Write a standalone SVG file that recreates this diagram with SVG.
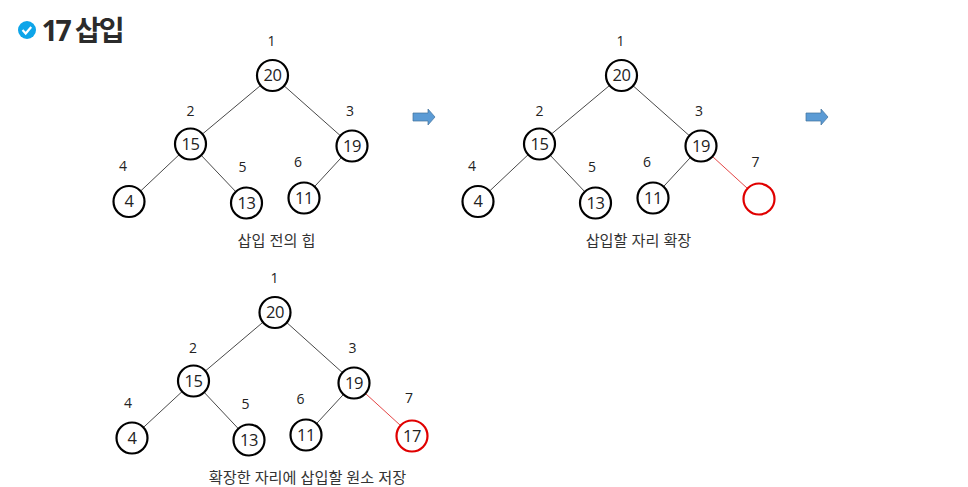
<svg xmlns="http://www.w3.org/2000/svg" width="968" height="487" viewBox="0 0 968 487">
<style>
text{font-family:"Open Sans","Noto Sans CJK KR","Noto Sans",sans-serif;fill:#222;text-anchor:middle}
.n{fill:#fff;stroke:#000;stroke-width:2.2}
.r{fill:#fff;stroke:#e00000;stroke-width:2.2}
.l{font-size:14px}
.v{font-size:16.500px;letter-spacing:-.5px}
.c{font-size:15.200px;fill:#333}
.e{stroke:#333;stroke-width:.9}
.er{stroke:#e03030;stroke-width:.9}
.a{fill:#5b9bd5;stroke:#41719c;stroke-width:.7}
</style>
<defs>
<g id="arrow"><path class="a" d="M0-4H15V-8L22 0 15 8V4H0Z"/></g>
</defs>
<g id="title">
<circle cx="27" cy="30" r="9" fill="#0ea5e9"/>
<path d="M22.500 30l3.200 3.500 5.500-6.500" fill="none" stroke="#fff" stroke-width="2.200"/>
<text x="82" y="41" style="font-size:28.500px;font-weight:700;letter-spacing:-2.300px;fill:#2b2b2b">17 삽입</text>
</g>
<g id="connectors">
<path class="e" d="M272.500 75.500L190.500 144M272.500 75.500L352 146M190.500 144L129.500 201.500M190.500 144L246.500 203M352 146L304 198"/>
<path class="e" d="M621.500 75.500L539.500 144M621.500 75.500L701 146M539.500 144L478.500 201.500M539.500 144L595.500 203M701 146L653 198"/>
<path class="er" d="M701 146L759 199"/>
<path class="e" d="M275 312L193.500 381M275 312L354 383M193.500 381L132 438M193.500 381L249 440M354 383L306 435"/>
<path class="er" d="M354 383L412 436"/>
</g>
<g id="arrow1"><use href="#arrow" x="413" y="117"/></g>
<g id="arrow2"><use href="#arrow" x="806" y="117"/></g>
<g id="a1"><circle class="n" cx="272.500" cy="75.500" r="15.500"/><text class="v" x="272.500" y="81">20</text><text class="l" x="271.500" y="46">1</text></g>
<g id="a2"><circle class="n" cx="190.500" cy="144" r="15.500"/><text class="v" x="190.500" y="150">15</text><text class="l" x="190.500" y="116">2</text></g>
<g id="a3"><circle class="n" cx="352" cy="146" r="15.500"/><text class="v" x="352" y="152">19</text><text class="l" x="350" y="116">3</text></g>
<g id="a4"><circle class="n" cx="129" cy="201.500" r="15.500"/><text class="v" x="129" y="207">4</text><text class="l" x="123" y="171">4</text></g>
<g id="a5"><circle class="n" cx="246.500" cy="203" r="15.500"/><text class="v" x="246.500" y="209">13</text><text class="l" x="242.500" y="172">5</text></g>
<g id="a6"><circle class="n" cx="304" cy="198" r="15.500"/><text class="v" x="304" y="204">11</text><text class="l" x="298" y="167">6</text></g>
<text class="c" x="276.500" y="246">삽입 전의 힙</text>
<g id="b1"><circle class="n" cx="621.500" cy="75.500" r="15.500"/><text class="v" x="621.500" y="81">20</text><text class="l" x="620.500" y="46">1</text></g>
<g id="b2"><circle class="n" cx="539.500" cy="144" r="15.500"/><text class="v" x="539.500" y="150">15</text><text class="l" x="539.500" y="116">2</text></g>
<g id="b3"><circle class="n" cx="701" cy="146" r="15.500"/><text class="v" x="701" y="152">19</text><text class="l" x="699" y="116">3</text></g>
<g id="b4"><circle class="n" cx="478" cy="201.500" r="15.500"/><text class="v" x="478" y="207">4</text><text class="l" x="472" y="171">4</text></g>
<g id="b5"><circle class="n" cx="595.500" cy="203" r="15.500"/><text class="v" x="595.500" y="209">13</text><text class="l" x="592" y="172">5</text></g>
<g id="b6"><circle class="n" cx="653" cy="198" r="15.500"/><text class="v" x="653" y="204">11</text><text class="l" x="647" y="167">6</text></g>
<g id="b7"><circle class="r" cx="759" cy="199" r="15.500"/><text class="l" x="755.500" y="167">7</text></g>
<text class="c" x="638.500" y="246">삽입할 자리 확장</text>
<g id="c1"><circle class="n" cx="275" cy="312.500" r="15.500"/><text class="v" x="275" y="318">20</text><text class="l" x="274.500" y="283">1</text></g>
<g id="c2"><circle class="n" cx="193.500" cy="381" r="15.500"/><text class="v" x="193.500" y="387">15</text><text class="l" x="193" y="353">2</text></g>
<g id="c3"><circle class="n" cx="354" cy="383" r="15.500"/><text class="v" x="354" y="389">19</text><text class="l" x="352.500" y="353">3</text></g>
<g id="c4"><circle class="n" cx="132" cy="438" r="15.500"/><text class="v" x="132" y="444">4</text><text class="l" x="128" y="408">4</text></g>
<g id="c5"><circle class="n" cx="249" cy="440" r="15.500"/><text class="v" x="249" y="446">13</text><text class="l" x="245.500" y="409">5</text></g>
<g id="c6"><circle class="n" cx="306" cy="435" r="15.500"/><text class="v" x="306" y="441">11</text><text class="l" x="300.500" y="404">6</text></g>
<g id="c7"><circle class="r" cx="412" cy="436" r="15.500"/><text class="v" x="412" y="442">17</text><text class="l" x="409" y="403">7</text></g>
<text class="c" x="307.500" y="483">확장한 자리에 삽입할 원소 저장</text>
</svg>
